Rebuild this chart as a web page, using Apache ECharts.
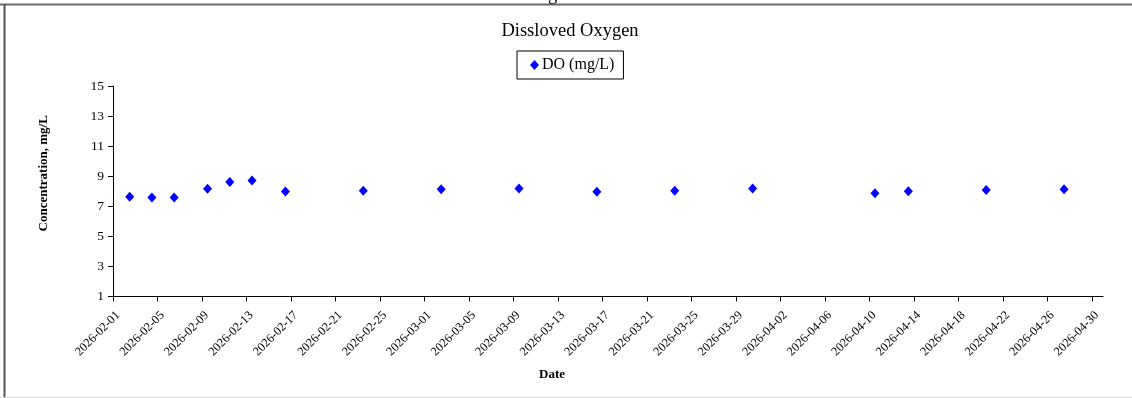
<!DOCTYPE html>
<html>
<head>
<meta charset="utf-8">
<script src="https://cdn.jsdelivr.net/npm/echarts@6/dist/echarts.min.js"></script>
<style>html,body{margin:0;padding:0;background:#fff;}#c{width:1132px;height:398px;}</style>
</head>
<body>
<div id="c"></div>
<script>
var sampleDates = ['2026-02-02 12:00','2026-02-04 12:00','2026-02-06 12:00','2026-02-09 12:00','2026-02-11 12:00','2026-02-13 12:00','2026-02-16 12:00','2026-02-23 12:00','2026-03-02 12:00','2026-03-09 12:00','2026-03-16 12:00','2026-03-23 12:00','2026-03-30 12:00','2026-04-10 12:00','2026-04-13 12:00','2026-04-20 12:00','2026-04-27 12:00'];
var doValues = [7.64, 7.58, 7.58, 8.16, 8.62, 8.71, 7.98, 8.04, 8.14, 8.18, 7.96, 8.04, 8.18, 7.87, 8.00, 8.09, 8.14];
var tickDates = ['2026-02-01','2026-02-05','2026-02-09','2026-02-13','2026-02-17','2026-02-21','2026-02-25','2026-03-01','2026-03-05','2026-03-09','2026-03-13','2026-03-17','2026-03-21','2026-03-25','2026-03-29','2026-04-02','2026-04-06','2026-04-10','2026-04-14','2026-04-18','2026-04-22','2026-04-26','2026-04-30'];
var axisStart = '2026-02-01';
var axisEnd = '2026-05-01';
var yTicks = [1,3,5,7,9,11,13,15];

function dayOf(s){
  var p = s.split(' ');
  var d = p[0].split('-');
  var h = p[1] ? parseInt(p[1].split(':')[0],10) : 0;
  var t = Date.UTC(+d[0], +d[1]-1, +d[2], h);
  var d0 = axisStart.split('-');
  return (t - Date.UTC(+d0[0], +d0[1]-1, +d0[2])) / 86400000;
}
var tickDays = tickDates.map(dayOf);
var labelMap = {};
tickDates.forEach(function(s){ labelMap[dayOf(s)] = s; });
var seriesData = sampleDates.map(function(s,i){ return [dayOf(s), doValues[i]]; });

var serif = "'Liberation Serif','Times New Roman',serif";
var chart = echarts.init(document.getElementById('c'));
chart.setOption({
  animation: false,
  backgroundColor: '#fff',
  title: {
    text: 'Dissloved Oxygen', left: 565, textAlign: 'center', top: 17,
    textStyle: {fontFamily: serif, fontSize: 18.5, fontWeight: 'normal', color: '#000'}
  },
  legend: {
    top: 51, left: 517,
    data: [{name: 'DO (mg/L)', icon: 'diamond'}],
    itemWidth: 9, itemHeight: 10, itemGap: 4,
    borderColor: '#000', borderWidth: 1, borderRadius: 0,
    padding: [6, 9, 6, 13],
    textStyle: {fontFamily: serif, fontSize: 16, color: '#000', padding: [0,0,0,-2]}
  },
  graphic: [
    {type: 'line', shape: {x1: 0, y1: 4.5, x2: 1132, y2: 4.5}, style: {stroke: '#6a6a6a', lineWidth: 2}, silent: true},
    {type: 'line', shape: {x1: 4.5, y1: 4, x2: 4.5, y2: 398}, style: {stroke: '#555', lineWidth: 2}, silent: true},
    {type: 'line', shape: {x1: 0, y1: 397.5, x2: 1132, y2: 397.5}, style: {stroke: '#ddd', lineWidth: 1}, silent: true},
    {type: 'text', left: 548, top: -14, style: {text: 'g', font: "18.5px 'Liberation Serif', serif", fill: '#000'}, silent: true}
  ],
  grid: {left: 113, top: 86, right: 29, bottom: 101.5, containLabel: false},
  xAxis: {
    type: 'value', min: 0, max: dayOf(axisEnd),
    name: 'Date', nameLocation: 'middle', nameGap: 72,
    nameTextStyle: {fontFamily: serif, fontSize: 13, fontWeight: 'bold', color: '#000', padding: [0, 112, 0, 0]},
    splitLine: {show: false},
    axisLine: {show: true, onZero: false, lineStyle: {color: '#000', width: 1}},
    axisTick: {show: true, length: 5, lineStyle: {color: '#000'}, customValues: tickDays},
    axisLabel: {
      customValues: tickDays, rotate: 45, margin: 12,
      fontFamily: serif, fontSize: 12.3, color: '#000',
      rich: {a: {fontFamily: serif, fontSize: 12.3, color: '#000', padding: [14, 0, 0, 0]}},
      formatter: function(v){ return labelMap[v] ? '{a|' + labelMap[v] + '}' : ''; }
    }
  },
  yAxis: {
    type: 'value', min: 1, max: 15, interval: 2,
    name: 'Concentration, mg/L', nameLocation: 'middle', nameGap: 63,
    nameTextStyle: {fontFamily: serif, fontSize: 13, fontWeight: 'bold', color: '#000', padding: [0, 0, 0, 36]},
    splitLine: {show: false},
    axisLine: {show: true, lineStyle: {color: '#000', width: 1}},
    axisTick: {show: true, length: 5, lineStyle: {color: '#000'}},
    axisLabel: {fontFamily: serif, fontSize: 13.5, color: '#000', margin: 9,
      customValues: yTicks}
  },
  series: [{
    name: 'DO (mg/L)', type: 'scatter', symbol: 'diamond', symbolSize: [9, 10],
    itemStyle: {color: '#0000FF', opacity: 1},
    data: seriesData
  }]
});
</script>
</body>
</html>
